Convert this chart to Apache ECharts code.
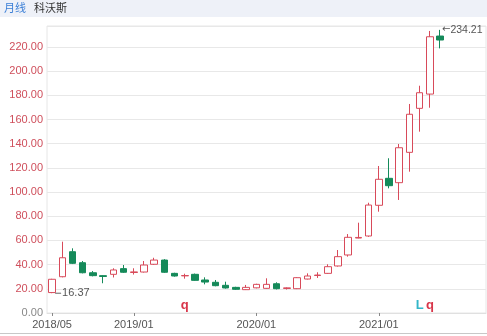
<!DOCTYPE html>
<html><head><meta charset="utf-8">
<script src="https://cdn.jsdelivr.net/npm/echarts@6/dist/echarts.min.js"></script>
<style>html,body{margin:0;padding:0;background:#fff}#c{width:487px;height:336px}</style>
</head><body><div id="c"></div>
<script>
const months = ['2018/05','2018/06','2018/07','2018/08','2018/09','2018/10','2018/11','2018/12',
 '2019/01','2019/02','2019/03','2019/04','2019/05','2019/06','2019/07','2019/08','2019/09','2019/10','2019/11','2019/12',
 '2020/01','2020/02','2020/03','2020/04','2020/05','2020/06','2020/07','2020/08','2020/09','2020/10','2020/11','2020/12',
 '2021/01','2021/02','2021/03','2021/04','2021/05','2021/06','2021/07','2021/08','2021/09','2021/10','2021/11'];
const tickLabels = ['2018/05','2019/01','2020/01','2021/01'];
// [open, close, low, high]
const ohlc = [
 [16.9,27.9,16.37,28.3],[30.0,45.7,29.5,59.0],[50.7,41.1,40.5,53.5],[41.6,33.3,32.8,43.0],
 [33.3,30.9,30.3,34.7],[30.9,30.2,24.6,31.3],[32.0,35.6,29.4,37.0],[36.7,33.7,33.2,39.7],
 [33.5,34.0,31.8,37.0],[33.9,39.7,33.5,43.0],[40.3,43.8,39.8,45.7],[43.8,33.7,33.2,44.5],
 [32.8,30.6,30.1,33.3],[30.7,31.0,28.4,32.5],[32.0,27.0,26.6,32.6],[27.3,25.6,23.7,29.5],
 [25.4,22.6,22.1,27.3],[22.9,20.7,20.2,25.9],[21.2,19.6,19.1,21.7],[19.3,21.2,19.0,23.2],
 [20.8,23.7,20.4,24.2],[20.4,23.7,20.0,28.7],[24.2,20.1,19.5,25.4],[20.3,20.8,19.4,21.2],
 [20.1,29.2,19.8,29.6],[28.1,30.6,27.8,32.8],[31.0,31.4,29.0,33.7],[32.8,38.3,32.4,40.3],
 [38.9,46.6,38.4,52.1],[48.0,62.6,46.6,65.3],[62.0,62.5,61.8,74.7],[63.7,89.3,63.0,91.2],
 [89.1,110.6,83.8,121.6],[111.4,105.3,103.1,128.0],[107.8,136.7,93.5,139.8],[132.9,164.4,116.9,172.9],
 [169.3,182.2,150.0,188.0],[181.1,228.5,169.8,233.3],[229.1,225.8,218.9,234.21]
];
const eventCats = ['2019/06','2021/05','2021/06'];
const eventTexts = ['q','L','q'];
const eventColors = ['#d8364a','#33b6c8','#d8364a'];
const eventLevel = 6;

const UP = '#d84a5a', DOWN = '#158a5a';
const chart = echarts.init(document.getElementById('c'), null, {renderer:'canvas'});
const evPoints = eventCats.map((c,i)=>({
  coord:[c,eventLevel], symbol:'circle', symbolSize:0,
  label:{show:true, position:'inside', formatter:eventTexts[i], color:eventColors[i],
    fontSize:13, fontWeight:'bold', fontFamily:'Liberation Sans'}
}));
chart.setOption({
  animation:false,
  graphic:[
    {type:'rect', shape:{x:0,y:0,width:487,height:17}, style:{fill:'#eef1f8'}, silent:true},
    {type:'text', left:4, top:2, style:{text:'月线', fill:'#3b7fd6', font:'11px "Noto Sans CJK SC"'}},
    {type:'text', left:34, top:2, style:{text:'科沃斯', fill:'#333', font:'11px "Noto Sans CJK SC"'}},
    {type:'rect', shape:{x:0,y:333,width:487,height:1}, style:{fill:'#c8c8c8'}, silent:true}
  ],
  grid:{left:47, right:1, top:26, bottom:23, show:true, borderColor:'#e6e6e6', borderWidth:1},
  xAxis:{
    type:'category', data:months, boundaryGap:true,
    axisLine:{show:true, lineStyle:{color:'#e0e0e0'}},
    axisTick:{show:true, alignWithLabel:true, length:3, lineStyle:{color:'#888'},
      interval:(i,v)=>tickLabels.includes(v)},
    axisLabel:{interval:(i,v)=>tickLabels.includes(v), color:'#555', fontSize:11,
      fontFamily:'Liberation Sans', margin:6},
    splitLine:{show:false}
  },
  yAxis:{
    type:'value', min:0, max:237.4, interval:20, scale:false,
    axisLine:{show:false}, axisTick:{show:false},
    axisLabel:{showMaxLabel:false, margin:4, fontSize:11, fontFamily:'Liberation Sans',
      formatter:v=>v.toFixed(2), color:(v)=> (+v===0 ? '#888' : '#cf4f5c')},
    splitLine:{lineStyle:{color:'#e8e8e8'}}
  },
  series:[{
    type:'candlestick', data:ohlc, barWidth:7,
    itemStyle:{color:'#ffffff', color0:DOWN, borderColor:UP, borderColor0:DOWN, borderWidth:1},
    markPoint:{
      animation:false,
      data:[
        {type:'min', valueDim:'lowest', symbol:'circle', symbolSize:0,
          label:{show:true, position:'right', distance:3, formatter:'{l|}{t|16.37}',
            rich:{l:{width:6,height:1,backgroundColor:'#666'}, t:{color:'#555',fontSize:11,fontFamily:'Liberation Sans',padding:[0,0,0,1]}}}},
        {type:'max', valueDim:'highest', symbol:'circle', symbolSize:0,
          label:{show:true, position:'right', distance:2, formatter:'{a|←}{t|234.21}',
            rich:{a:{color:'#555',fontSize:10,fontFamily:'DejaVu Sans'}, t:{color:'#555',fontSize:10.5,fontFamily:'Liberation Sans'}}}},
        ...evPoints
      ]
    }
  }]
});
</script></body></html>
